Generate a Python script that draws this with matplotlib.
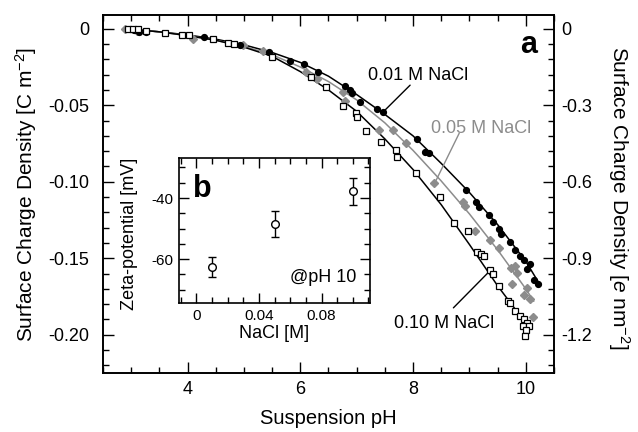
import numpy as np
import matplotlib
matplotlib.use("Agg")
import matplotlib.pyplot as plt
from matplotlib.ticker import MultipleLocator, FixedLocator, FixedFormatter

plt.rcParams['font.family'] = ['Liberation Sans', 'DejaVu Sans']
plt.rcParams['mathtext.fontset'] = 'custom'
plt.rcParams['mathtext.rm'] = 'Liberation Sans'
plt.rcParams['mathtext.it'] = 'Liberation Sans:italic'
plt.rcParams['axes.unicode_minus'] = False

# --- panel a: measured surface charge density vs pH
ph_001 = [3.05, 3.14, 3.27, 4.30, 4.93, 5.45, 5.82, 6.06, 6.32, 6.79, 6.88, 6.91,
          7.06, 7.36, 7.46, 8.07, 8.22, 8.29, 8.94, 9.12, 9.17, 9.34, 9.42, 9.52,
          9.56, 9.72, 9.80, 9.90, 9.96, 10.03, 10.07, 10.15, 10.21]
sig_001 = [-0.0010, -0.0018, -0.0020, -0.0052, -0.0105, -0.0152, -0.0208, -0.0233,
           -0.0283, -0.0377, -0.0403, -0.0420, -0.0480, -0.0525, -0.0545, -0.0721,
           -0.0808, -0.0810, -0.1057, -0.1135, -0.1163, -0.1220, -0.1266, -0.1310,
           -0.1340, -0.1397, -0.1444, -0.1484, -0.1510, -0.1570, -0.1540, -0.1640,
           -0.1667]

ph_005 = [2.89, 3.10, 4.10, 4.99, 5.34, 6.10, 6.29, 6.76, 6.79, 7.40, 7.64, 7.88,
          8.37, 8.88, 8.93, 9.10, 9.37, 9.53, 9.74, 9.75, 9.80, 9.85, 9.97, 10.03,
          10.07, 10.13]
sig_005 = [0.0, -0.0017, -0.0067, -0.0105, -0.0148, -0.0280, -0.0330, -0.0416,
           -0.0475, -0.0660, -0.0665, -0.0747, -0.1010, -0.1135, -0.1160, -0.1320,
           -0.1378, -0.1433, -0.1564, -0.1667, -0.1550, -0.1597, -0.1740, -0.1695,
           -0.1767, -0.1884]

ph_010 = [2.94, 3.03, 3.12, 3.27, 3.60, 3.91, 4.03, 4.46, 4.72, 4.82, 5.49, 6.19,
          6.45, 6.75, 6.99, 7.01, 7.17, 7.43, 7.70, 7.71, 8.06, 8.48, 8.73, 8.97,
          9.14, 9.20, 9.26, 9.37, 9.42, 9.53, 9.68, 9.72, 9.81, 9.90, 9.97, 10.02,
          9.95, 10.05, 10.01, 9.99]
sig_010 = [0.0, 0.0, -0.0003, -0.0015, -0.0026, -0.0044, -0.0044, -0.0067, -0.0093,
           -0.0098, -0.0185, -0.0318, -0.0380, -0.0503, -0.0550, -0.0577, -0.0670,
           -0.0740, -0.0795, -0.0835, -0.0943, -0.1100, -0.1268, -0.1325, -0.1460,
           -0.1470, -0.1484, -0.1580, -0.1605, -0.1680, -0.1780, -0.1790, -0.1848,
           -0.1875, -0.1898, -0.1920, -0.1940, -0.1940, -0.1970, -0.2010]

# model curves
fit_ph_001 = [2.9, 3.5, 4.0, 4.5, 5.0, 5.5, 6.0, 6.5, 7.0, 7.5, 8.0, 8.5, 9.0, 9.5, 10.0, 10.23]
fit_sig_001 = [0.0, -0.0020, -0.0040, -0.0068, -0.0105, -0.0155, -0.0220, -0.0310,
               -0.0430, -0.0560, -0.0700, -0.0880, -0.1070, -0.1280, -0.1520, -0.1660]
fit_ph_005 = [2.9, 3.5, 4.0, 4.5, 5.0, 5.5, 6.0, 6.5, 7.0, 7.5, 8.0, 8.5, 9.0, 9.5, 10.0, 10.14]
fit_sig_005 = [0.0, -0.0020, -0.0045, -0.0075, -0.0115, -0.0170, -0.0250, -0.0345,
               -0.0465, -0.0615, -0.0795, -0.0995, -0.1210, -0.1445, -0.1700, -0.1780]
fit_ph_010 = [2.9, 3.5, 4.0, 4.5, 5.0, 5.5, 6.0, 6.5, 7.0, 7.5, 8.0, 8.5, 9.0, 9.5, 9.97]
fit_sig_010 = [0.0, -0.0020, -0.0045, -0.0075, -0.0120, -0.0180, -0.0280, -0.0400,
               -0.0540, -0.0720, -0.0920, -0.1150, -0.1410, -0.1680, -0.1910]

curve_labels = ['0.01 M NaCl', '0.05 M NaCl', '0.10 M NaCl']

# --- panel b: zeta potential at pH 10
nacl = [0.01, 0.05, 0.10]
zeta = [-62.6, -48.5, -37.8]
zeta_err = [3.4, 4.2, 4.5]

x_ticks = [4, 6, 8, 10]
y_ticks = [0, -0.05, -0.10, -0.15, -0.20]
y_tick_labels = ['0', '-0.05', '-0.10', '-0.15', '-0.20']
y2_ticks = [0, -0.3, -0.6, -0.9, -1.2]
y2_tick_labels = ['0', '-0.3', '-0.6', '-0.9', '-1.2']
in_x_ticks = [0, 0.04, 0.08]
in_x_tick_labels = ['0', '0.04', '0.08']
in_y_ticks = [-40, -60]
in_y_tick_labels = ['-40', '-60']

e_per_nm2 = 6.0  # right axis scale as drawn

gray = '#8c8c8c'

fig = plt.figure(figsize=(6.38, 4.32), dpi=100)
ax = fig.add_axes([0.1614, 0.1366, 0.7069, 0.8287])

ax.plot(fit_ph_001, fit_sig_001, color='black', lw=1.1, zorder=2)
ax.plot(fit_ph_005, fit_sig_005, color=gray, lw=1.1, zorder=2)
ax.plot(fit_ph_010, fit_sig_010, color='black', lw=1.1, zorder=2)

ax.plot(ph_005, sig_005, ls='none', marker='D', ms=3.8, mfc=gray, mec=gray, zorder=3)
ax.plot(ph_001, sig_001, ls='none', marker='o', ms=4.2, mfc='black', mec='black', zorder=4)
ax.plot(ph_010, sig_010, ls='none', marker='s', ms=4.0, mfc='white', mec='black',
        mew=0.9, zorder=4)

ax.set_xlim(2.5, 10.5)
ax.set_ylim(-0.225, 0.009)

ax.xaxis.set_major_locator(FixedLocator(x_ticks))
ax.xaxis.set_minor_locator(MultipleLocator(0.5))
ax.yaxis.set_major_locator(FixedLocator(y_ticks))
ax.yaxis.set_major_formatter(FixedFormatter(y_tick_labels))
ax.yaxis.set_minor_locator(MultipleLocator(0.01))

ax.tick_params(which='both', direction='in', top=True, right=False, width=1.0)
ax.tick_params(which='major', length=8)
ax.tick_params(which='minor', length=4.5)
ax.tick_params(axis='x', labelsize=13, pad=6)
ax.tick_params(axis='y', labelsize=13, pad=10)
for sp in ax.spines.values():
    sp.set_linewidth(1.2)

ax.set_xlabel('Suspension pH', fontsize=14.5)
ax.xaxis.set_label_coords(0.5, -0.10)
ax.set_ylabel('Surface Charge Density [C m$^{-2}$]', fontsize=15)
ax.yaxis.set_label_coords(-0.142, 0.5)

ax2 = ax.twinx()
ax2.set_ylim(ax.get_ylim()[0] * e_per_nm2, ax.get_ylim()[1] * e_per_nm2)
ax2.yaxis.set_major_locator(FixedLocator(y2_ticks))
ax2.yaxis.set_major_formatter(FixedFormatter(y2_tick_labels))
ax2.yaxis.set_minor_locator(MultipleLocator(0.06))
ax2.tick_params(which='both', direction='in', width=1.0, labelsize=13, pad=5)
ax2.tick_params(which='major', length=8)
ax2.tick_params(which='minor', length=4.5)
ax2.set_ylabel('Surface Charge Density [$\\mathit{e}$ nm$^{-2}$]', fontsize=15,
               rotation=-90, va='bottom')
ax2.yaxis.set_label_coords(1.115, 0.49)
for sp in ax2.spines.values():
    sp.set_linewidth(1.2)

ax.text(0.9616, 0.893, 'a', transform=ax.transAxes, fontsize=22, fontweight='bold',
        ha='right', va='baseline')

ax.text(0.698, 0.818, curve_labels[0], transform=ax.transAxes, fontsize=13,
        ha='center', va='baseline')
ax.text(0.839, 0.671, curve_labels[1], transform=ax.transAxes, fontsize=13,
        ha='center', va='baseline', color=gray)
ax.text(0.757, 0.125, curve_labels[2], transform=ax.transAxes, fontsize=13,
        ha='center', va='baseline')

lead = dict(arrowstyle='-', lw=1.0, shrinkA=0, shrinkB=0)
ax.annotate('', xy=(7.45, -0.0551), xytext=(0.681, 0.804), textcoords='axes fraction',
            arrowprops=dict(lead, color='black'))
ax.annotate('', xy=(8.39, -0.1005), xytext=(0.790, 0.670), textcoords='axes fraction',
            arrowprops=dict(lead, color=gray))
ax.annotate('', xy=(9.37, -0.158), xytext=(0.777, 0.182), textcoords='axes fraction',
            arrowprops=dict(lead, color='black'))

# inset b
axi = fig.add_axes([0.2806, 0.2979, 0.2994, 0.3356])
axi.errorbar(nacl, zeta, yerr=zeta_err, fmt='o', ms=5.5, mfc='white', mec='black',
             mew=1.0, ecolor='black', elinewidth=1.0, capsize=3, capthick=1.0)
axi.set_xlim(-0.011, 0.111)
axi.set_ylim(-74.5, -27)
axi.xaxis.set_major_locator(FixedLocator(in_x_ticks))
axi.xaxis.set_major_formatter(FixedFormatter(in_x_tick_labels))
axi.xaxis.set_minor_locator(MultipleLocator(0.01))
axi.yaxis.set_major_locator(FixedLocator(in_y_ticks))
axi.yaxis.set_major_formatter(FixedFormatter(in_y_tick_labels))
axi.yaxis.set_minor_locator(MultipleLocator(5))
axi.tick_params(which='both', direction='in', top=True, right=True, width=1.0,
                labelsize=11, pad=4)
axi.tick_params(which='major', length=7)
axi.tick_params(which='minor', length=4)
for sp in axi.spines.values():
    sp.set_linewidth(1.2)
axi.set_xlabel('NaCl [M]', fontsize=13)
axi.xaxis.set_label_coords(0.5, -0.15)
axi.set_ylabel('Zeta-potential [mV]', fontsize=13)
axi.yaxis.set_label_coords(-0.215, 0.478)
axi.text(0.075, 0.733, 'b', transform=axi.transAxes, fontsize=22, fontweight='bold',
         ha='left', va='baseline')
axi.text(0.93, 0.149, '@pH 10', transform=axi.transAxes, fontsize=13,
         ha='right', va='baseline')

fig.savefig('out.png', dpi=100)
